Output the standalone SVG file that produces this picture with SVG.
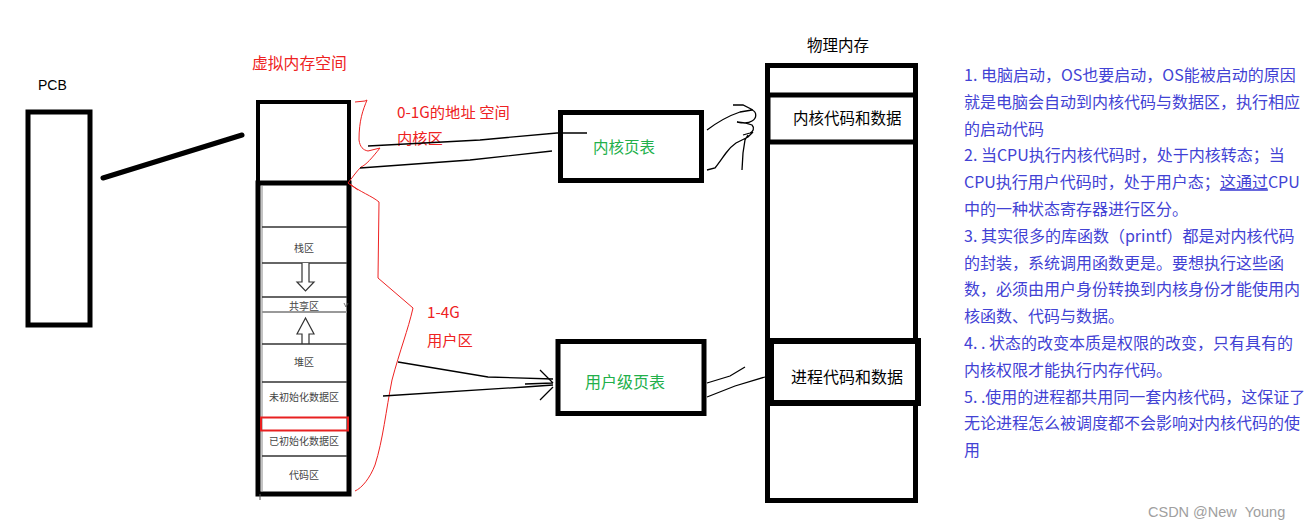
<svg xmlns="http://www.w3.org/2000/svg" width="1308" height="531" viewBox="0 0 1308 531">
<style>
  text { font-family: "Noto Sans CJK SC", "Liberation Sans", sans-serif; }
  .box { fill: none; stroke: #000; stroke-width: 5; }
  .red { fill: #ee2222; font-size: 15.3px; }
  .green { fill: #22b04a; font-size: 15.5px; }
  .blk { fill: #000; font-size: 15.5px; }
  .seg { fill: #444; font-size: 10px; text-anchor: middle; }
  .div { stroke: #333; stroke-width: 1.5; }
  .note { fill: #4242d4; font-size: 16px; }
  .ink { fill: none; stroke: #000; stroke-width: 1.3; }
  .brace { fill: none; stroke: #ee2222; stroke-width: 1; }
</style>

<g id="pcb">
  <text x="38" y="90" class="blk" style="font-family:'Liberation Sans',sans-serif;font-size:14px">PCB</text>
  <rect x="28" y="112" width="62" height="213" class="box"/>
</g>

<g id="virtual-memory">
  <text x="252" y="69" class="red" style="font-size:15.8px">虚拟内存空间</text>
  <rect x="258" y="102" width="91" height="81" fill="none" stroke="#000" stroke-width="4"/>
  <rect x="258" y="183" width="91" height="311" fill="none" stroke="#000" stroke-width="5"/>
  <line x1="262" y1="186" x2="262" y2="492" stroke="#888" stroke-width="1"/>
  <line x1="260" y1="494" x2="260" y2="500" stroke="#555" stroke-width="1"/>
  <line x1="262" y1="227" x2="347" y2="227" class="div"/>
  <text x="304" y="252" class="seg">栈区</text>
  <line x1="262" y1="263" x2="347" y2="263" class="div"/>
  <path d="M302,263 L302,282 L297,282 L305.5,291 L314,282 L309,282 L309,263" fill="#fff" stroke="#333" stroke-width="1.2"/>
  <line x1="262" y1="297" x2="347" y2="297" class="div"/>
  <text x="304" y="310" class="seg">共享区</text>
  <path d="M344,303 L346,307 L348,303" fill="none" stroke="#555" stroke-width="0.8"/>
  <line x1="262" y1="312" x2="347" y2="312" stroke="#999" stroke-width="2"/>
  <path d="M302,344 L302,334 L297,334 L305.5,318 L314,334 L309,334 L309,344" fill="#fff" stroke="#333" stroke-width="1.2"/>
  <line x1="262" y1="344" x2="347" y2="344" class="div"/>
  <text x="304" y="366" class="seg">堆区</text>
  <line x1="262" y1="382" x2="347" y2="382" class="div"/>
  <text x="304" y="401" class="seg">未初始化数据区</text>
  <rect x="261" y="417.5" width="87" height="13" fill="none" stroke="#e82020" stroke-width="2"/>
  <text x="304" y="445" class="seg">已初始化数据区</text>
  <line x1="262" y1="456" x2="347" y2="456" class="div"/>
  <text x="304" y="479" class="seg">代码区</text>
</g>

<g id="kernel-label">
  <text x="397" y="118" class="red">0-1G的地址 空间</text>
  <text x="397" y="144" class="red">内核区</text>
  <path d="M355,102 L365,101 L367,100 C363,110 359,120 359,140 C360,147 363,150 368,151 L380,148 M380,148 C372,158 366,165 361,167 C356,172 352,178 348,183 L358,190" class="brace"/>
</g>

<g id="user-label">
  <text x="427" y="318" class="red">1-4G</text>
  <text x="427" y="346" class="red">用户区</text>
  <path d="M350,184 C360,192 372,196 379,202 L378,278 L413,308 C408,330 400,350 392,380 C386,410 383,440 375,465 C370,478 362,488 355,491" class="brace"/>
</g>

<g id="kernel-page-table">
  <rect x="560.5" y="112.5" width="141" height="68" class="box" stroke-width="5"/>
  <text x="593" y="152.5" class="green">内核页表</text>
</g>

<g id="user-page-table">
  <rect x="558" y="341.5" width="146" height="72" class="box" stroke-width="5"/>
  <text x="585" y="388" class="green" style="font-size:16px">用户级页表</text>
</g>

<g id="physical-memory">
  <text x="807" y="50.5" class="blk">物理内存</text>
  <rect x="767.5" y="65.5" width="148" height="435" class="box" stroke-width="5"/>
  <line x1="767" y1="95" x2="916" y2="95" stroke="#000" stroke-width="5"/>
  <line x1="767" y1="142" x2="916" y2="142" stroke="#000" stroke-width="5"/>
  <line x1="769" y1="95" x2="769" y2="142" stroke="#000" stroke-width="3"/>
  <text x="793" y="124" class="blk">内核代码和数据</text>
  <rect x="771" y="341" width="147" height="62" fill="#fff" stroke="#000" stroke-width="6"/>
  <text x="791" y="383" class="blk" style="font-size:16px">进程代码和数据</text>
</g>

<g id="notes">
  <text class="note">
    <tspan x="964" y="81">1. 电脑启动，OS也要启动，OS能被启动的原因</tspan>
    <tspan x="964" y="107.8">就是电脑会自动到内核代码与数据区，执行相应</tspan>
    <tspan x="964" y="134.6">的启动代码</tspan>
    <tspan x="964" y="161.4">2. 当CPU执行内核代码时，处于内核转态；当</tspan>
    <tspan x="964" y="188.2">CPU执行用户代码时，处于用户态；<tspan text-decoration="underline">这通过</tspan>CPU</tspan>
    <tspan x="964" y="215">中的一种状态寄存器进行区分。</tspan>
    <tspan x="964" y="241.8">3. 其实很多的库函数（printf）都是对内核代码</tspan>
    <tspan x="964" y="268.6">的封装，系统调用函数更是。要想执行这些函</tspan>
    <tspan x="964" y="295.4">数，必须由用户身份转换到内核身份才能使用内</tspan>
    <tspan x="964" y="322.2">核函数、代码与数据。</tspan>
    <tspan x="964" y="349">4. . 状态的改变本质是权限的改变，只有具有的</tspan>
    <tspan x="964" y="375.8">内核权限才能执行内存代码。</tspan>
    <tspan x="964" y="402.6">5. .使用的进程都共用同一套内核代码，这保证了</tspan>
    <tspan x="964" y="429.4">无论进程怎么被调度都不会影响对内核代码的使</tspan>
    <tspan x="964" y="456.2">用</tspan>
  </text>
  <text x="1148" y="517" style="font-family:'Liberation Sans',sans-serif;font-size:14.5px;fill:#a0a0a0">CSDN @New&#160; Young</text>
</g>

<g id="connectors">
  <line x1="103" y1="178" x2="242" y2="135" stroke="#000" stroke-width="5" stroke-linecap="round"/>
  <path d="M368,146 L480,140 L557,133 L587,133" class="ink"/>
  <path d="M360,168 L470,160 L552,151" class="ink"/>
  <path d="M707,130 C715,124 728,116 740,112 L752,110 C757,112 757,118 752,121 C748,124 742,123 737,122 M733,105 L743,105 L753,110 M737,122 L745,123 L752,125 C755,128 753,132 750,133 L743,135 M707,170 L715,168 C719,163 723,157 726,153 C729,149 733,145 736,143 L742,140 L748,137 L753,132 M742,170 L743,153 L745,140 L748,135" class="ink"/>
  <path d="M398,362 L488,377 L553,379" class="ink"/>
  <path d="M383,396 L525,387 L553,385" class="ink"/>
  <path d="M540,370 L553,383 M540,400 L553,387 M525,384 L553,383" class="ink"/>
  <path d="M707,383 L730,376 L745,367" class="ink"/>
  <path d="M707,397 L735,386 L765,377" class="ink"/>
</g>
</svg>
